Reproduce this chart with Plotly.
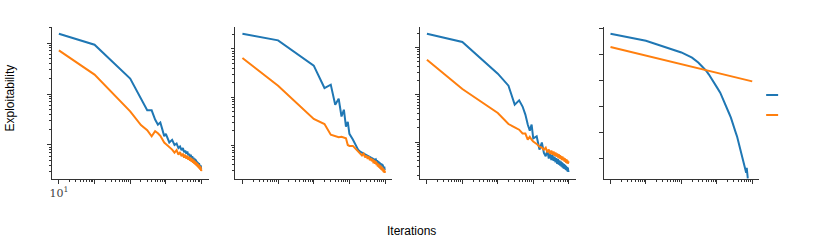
import plotly.graph_objects as go

# ---------------- data ----------------
iters = [10, 100, 1000, 2000, 3000, 4000, 5000, 6000, 7000, 8000, 9000, 10000,
         12500, 15000, 17500, 20000, 22500, 25000, 27500, 30000, 32500, 35000,
         37500, 40000, 42500, 45000, 47500, 50000, 52500, 55000, 57500, 60000,
         62500, 65000, 67500, 70000, 72500, 75000, 77500, 80000, 82500, 85000,
         87500, 90000, 92500, 95000, 97500, 100000]

p1_blue = [1.52, 0.927, 0.200, 0.0794, 0.0479, 0.0479, 0.0316, 0.0251, 0.0275, 0.0200,
           0.0148, 0.0166, 0.0112,
           0.0126, 0.0100, 0.0107, 0.00871, 0.00933, 0.00794, 0.00871, 0.00724, 0.00776,
           0.00676, 0.00741, 0.00631, 0.00676, 0.00589, 0.00646, 0.00550, 0.00603, 0.00525,
           0.00562, 0.00490, 0.00537, 0.00468, 0.00513, 0.00447, 0.00479, 0.00417, 0.00457,
           0.00398, 0.00437, 0.00380, 0.00417, 0.00363, 0.00398, 0.00347, 0.00355]
p1_orange = [0.716, 0.240, 0.0457, 0.0245, 0.0195, 0.0148, 0.0186, 0.0170, 0.0151, 0.0126,
             0.0112, 0.0105, 0.00933, 0.00813,
             0.00708, 0.00794, 0.00646, 0.00724, 0.00603, 0.00676, 0.00562, 0.00646, 0.00537,
             0.00617, 0.00513, 0.00589, 0.00490, 0.00562, 0.00468, 0.00537, 0.00447, 0.00513,
             0.00427, 0.00490, 0.00407, 0.00468, 0.00389, 0.00447, 0.00372, 0.00427, 0.00355,
             0.00407, 0.00339, 0.00389, 0.00324, 0.00372, 0.00309, 0.00331]

p2_blue = [2.08, 1.51, 0.451, 0.155, 0.182, 0.0698, 0.0933, 0.0398, 0.0550, 0.0245,
           0.0309, 0.0174, 0.0132, 0.00977, 0.00813, 0.00741,
           0.00708, 0.00676, 0.00646, 0.00631, 0.00617, 0.00603, 0.00589, 0.00575, 0.00562,
           0.00550, 0.00537, 0.00525, 0.00501, 0.00513, 0.00468, 0.00490, 0.00437, 0.00468,
           0.00417, 0.00447, 0.00398, 0.00427, 0.00380, 0.00417, 0.00363, 0.00398, 0.00347,
           0.00380, 0.00331, 0.00363, 0.00316, 0.00324]
p2_orange = [0.650, 0.173, 0.0353, 0.0278, 0.0167, 0.0157, 0.0148, 0.0151, 0.0145, 0.0141,
             0.0102, 0.00977, 0.00977, 0.00851, 0.00741, 0.00676,
             0.00617, 0.00676, 0.00562, 0.00617, 0.00525, 0.00589, 0.00490, 0.00550, 0.00468,
             0.00525, 0.00427, 0.00490, 0.00417, 0.00468, 0.00389, 0.00437, 0.00363, 0.00417,
             0.00347, 0.00398, 0.00331, 0.00380, 0.00316, 0.00363, 0.00302, 0.00347, 0.00288,
             0.00331, 0.00275, 0.00316, 0.00269, 0.00295]

p3_blue = [1.95, 1.30, 0.278, 0.155, 0.0617, 0.0759, 0.0562, 0.038, 0.0234, 0.0174,
           0.0234, 0.0120, 0.0132, 0.00692, 0.00977, 0.00589,
           0.00501, 0.00661, 0.00447, 0.00575, 0.00417, 0.00525, 0.00398, 0.00490, 0.00372,
           0.00457, 0.00347, 0.00437, 0.00331, 0.00407, 0.00316, 0.00389, 0.00302, 0.00372,
           0.00288, 0.00355, 0.00275, 0.00339, 0.00269, 0.00324, 0.00257, 0.00309, 0.00251,
           0.00295, 0.00240, 0.00288, 0.00234, 0.00251]
p3_orange = [0.550, 0.132, 0.041, 0.024, 0.0204, 0.0182, 0.0151, 0.0151, 0.0112, 0.0129,
             0.0112, 0.0102, 0.00912, 0.00794, 0.00759, 0.00692,
             0.00759, 0.00603, 0.00692, 0.00562, 0.00661, 0.00537, 0.00631, 0.00513, 0.00603,
             0.00490, 0.00575, 0.00468, 0.00550, 0.00447, 0.00525, 0.00437, 0.00501, 0.00417,
             0.00490, 0.00407, 0.00468, 0.00389, 0.00457, 0.00380, 0.00437, 0.00363, 0.00427,
             0.00355, 0.00407, 0.00347, 0.00389, 0.00363]

p4_blue = [0.626, 0.338, 0.120, 0.0759, 0.049, 0.0339, 0.024, 0.0170, 0.0117, 0.00912,
           0.00692, 0.00562, 0.00347, 0.00204, 0.00120, 0.000776, 0.000537, 0.000380,
           0.000269, 0.000186, 0.000132, 0.0000933, 0.0000708, 0.0000501, 0.0000347,
           0.0000269, 0.0000204, 0.0000158, 0.0000120, 0.00000933, 0.00000708, 0.00000603,
           0.00000501, 0.00000389, 0.00000295, 0.00000457, 0.00000209, 0.00000178,
           None, None, None, None, None, None, None, None, None, None]
p4_orange_iters = [10, 100, 1000, 10000, 100000]
p4_orange = [0.194, 0.0908, 0.0425, 0.0199, 0.00933]

x_major = [10, 100, 1000, 10000, 100000]
x_labels_first = ["10<sup>1</sup>", " ", " ", " ", " "]

# ---------------- styling ----------------
BLUE = "#1f77b4"
ORANGE = "#ff7f0e"
AX = "#333333"
W, H = 830, 241

x_domains = [(50, 207), (234, 391), (419, 575), (603, 759)]
y_ranges = [(-2.667, 0.314), (-2.697, 0.456), (-2.782, 0.431), (-5.77, 0.054)]
y_dom = [(241 - 179) / H, (241 - 27) / H]

x_minor = [m * 10 ** e for e in range(1, 5) for m in range(2, 10)]
y_major_std = [10 ** e for e in range(-3, 1)]
y_minor_std = [m * 10 ** e for e in range(-3, 1) for m in range(2, 10)]
y_major_p4 = [10 ** e for e in range(-6, 1)]

fig = go.Figure()

series = [
    (iters, p1_blue, iters, p1_orange),
    (iters, p2_blue, iters, p2_orange),
    (iters, p3_blue, iters, p3_orange),
    (iters, p4_blue, p4_orange_iters, p4_orange),
]

layout = dict(
    width=W, height=H,
    margin=dict(l=0, r=0, t=0, b=0),
    paper_bgcolor="white", plot_bgcolor="white",
    showlegend=False,
    font=dict(family="Liberation Sans, Arial, sans-serif", size=12, color="black"),
)

for i, (bx, by, ox, oy) in enumerate(series):
    n = "" if i == 0 else str(i + 1)
    fig.add_trace(go.Scatter(x=bx, y=by, mode="lines", line=dict(color=BLUE, width=2),
                             xaxis="x" + n, yaxis="y" + n, connectgaps=False))
    fig.add_trace(go.Scatter(x=ox, y=oy, mode="lines", line=dict(color=ORANGE, width=2),
                             xaxis="x" + n, yaxis="y" + n))
    d0, d1 = x_domains[i]
    xax = dict(
        type="log", range=[0.804, 5.196], domain=[d0 / W, d1 / W], anchor="y" + n,
        showline=True, linecolor=AX, linewidth=1, showgrid=False, zeroline=False,
        ticks="outside", ticklen=3.5, tickwidth=1, tickcolor=AX,
        tickmode="array", tickvals=x_major,
        showticklabels=(i == 0),
        minor=dict(tickmode="array", tickvals=x_minor, ticks="outside", ticklen=2,
                   tickwidth=0.8, tickcolor=AX, showgrid=False),
    )
    if i == 0:
        xax["ticktext"] = x_labels_first
        xax["tickfont"] = dict(family="DejaVu Serif", size=11, color="#444444")
    layout["xaxis" + n] = xax
    ymaj = y_major_p4 if i == 3 else y_major_std
    yax = dict(
        type="log", range=list(y_ranges[i]), domain=y_dom, anchor="x" + n,
        showline=True, linecolor=AX, linewidth=1, showgrid=False, zeroline=False,
        ticks="outside", ticklen=3.5, tickwidth=1, tickcolor=AX,
        tickmode="array", tickvals=ymaj, showticklabels=False,
    )
    if i < 3:
        yax["minor"] = dict(tickmode="array", tickvals=y_minor_std, ticks="outside",
                            ticklen=2, tickwidth=0.8, tickcolor=AX, showgrid=False)
    layout["yaxis" + n] = yax

layout["annotations"] = [
    dict(text="Iterations", x=410 / W, y=(241 - 231) / H, xref="paper", yref="paper",
         showarrow=False, xanchor="center", yanchor="middle",
         font=dict(family="Liberation Sans, Arial, sans-serif", size=12)),
    dict(text="Exploitability", x=8 / W, y=(241 - 97.5) / H, xref="paper", yref="paper",
         showarrow=False, xanchor="center", yanchor="middle", textangle=-90,
         font=dict(family="Liberation Sans, Arial, sans-serif", size=12)),
]
# legend handles (labels are blank in the reference)
layout["shapes"] = [
    dict(type="line", xref="paper", yref="paper", x0=766 / W, x1=778 / W,
         y0=(241 - 95) / H, y1=(241 - 95) / H, line=dict(color=BLUE, width=2)),
    dict(type="line", xref="paper", yref="paper", x0=766 / W, x1=778 / W,
         y0=(241 - 115) / H, y1=(241 - 115) / H, line=dict(color=ORANGE, width=2)),
]

fig.update_layout(**layout)
fig.write_html("out.html", config={"displayModeBar": False},
               post_script="document.body.style.margin='0';document.body.style.overflow='hidden';")
